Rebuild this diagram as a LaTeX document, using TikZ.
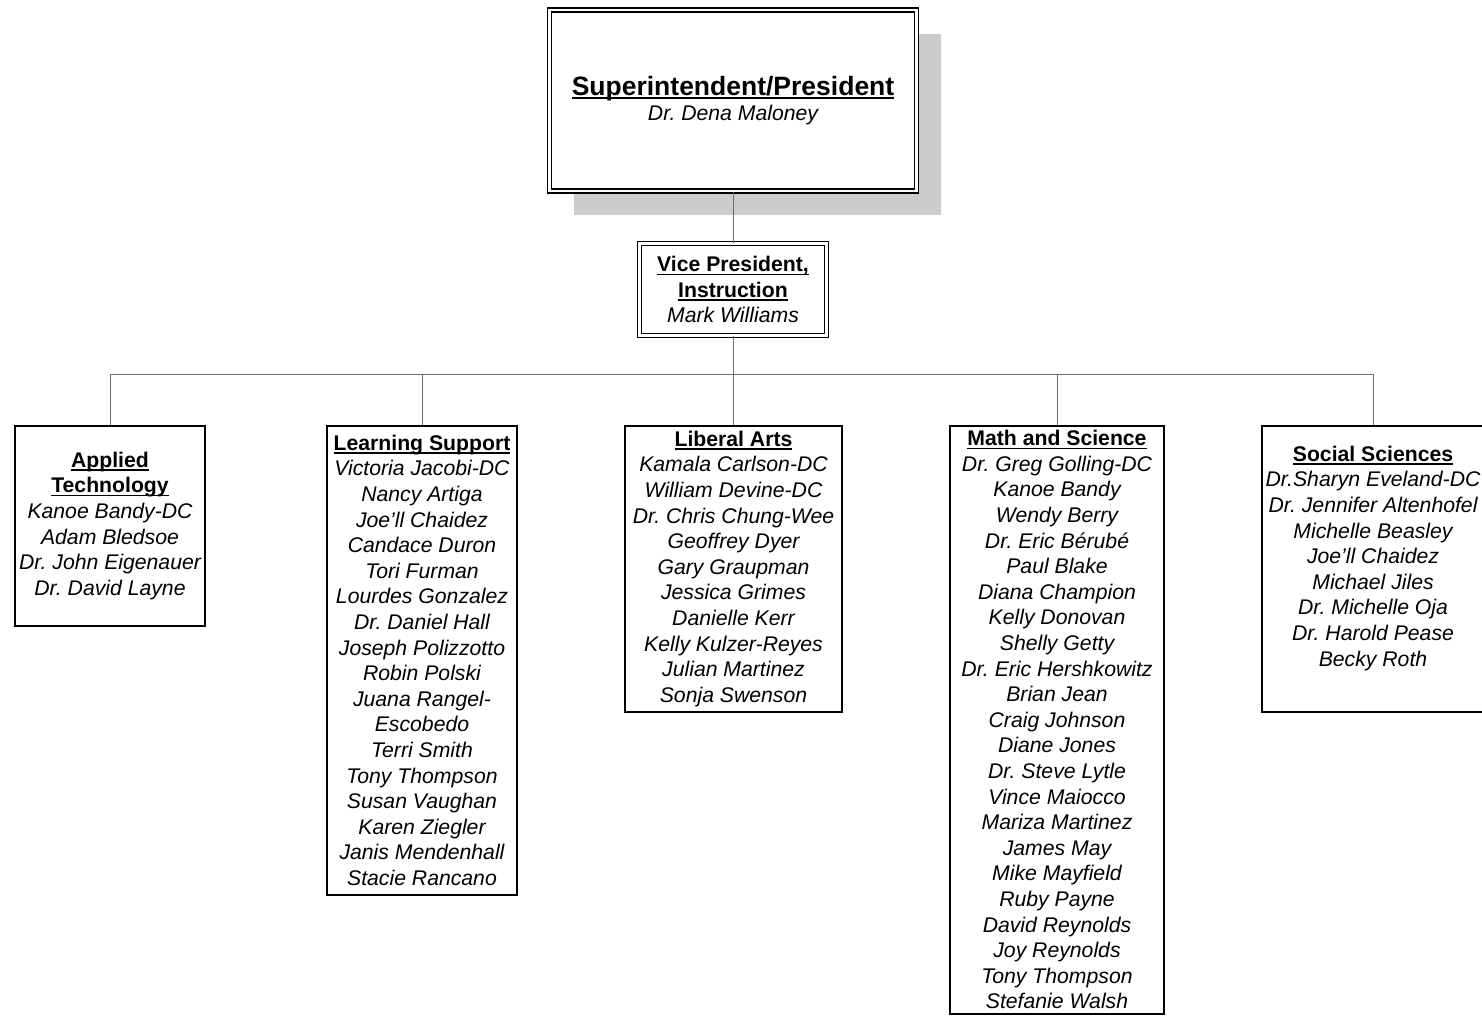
\documentclass[tikz,border=0pt]{standalone}
\usepackage{fontspec}
\setmainfont{Liberation Sans}
\usetikzlibrary{shadows}
\frenchspacing
\definecolor{shadowgray}{RGB}{204,204,204}
\definecolor{linkgray}{RGB}{110,110,110}
\newcommand{\head}[1]{{\bfseries\upshape\setbox0\hbox{#1}\rlap{\rule[-3.6pt]{\wd0}{1.5pt}}\box0}}
\tikzset{
  namefont/.style={font=\fontsize{21.2}{25.6}\selectfont\itshape},
  dept/.style={draw, line width=1.6pt, fill=white, align=center, anchor=north,
    inner xsep=1pt, inner ysep=2pt, namefont},
  office/.style={draw, line width=1.6pt, double, double distance=2.4pt, fill=white,
    align=center, inner sep=2pt, namefont},
  link/.style={draw=linkgray, line width=0.9pt}
}
\begin{document}
\begin{tikzpicture}[x=1pt,y=-1pt]
  \useasboundingbox (0,0) rectangle (1482,1015);

  \node[office, minimum width=367pt, minimum height=181pt,
    general shadow={fill=shadowgray, draw=none, shadow xshift=24pt, shadow yshift=-24pt}]
    (sup) at (733,100.5) {{\fontsize{26.5}{27}\selectfont\head{Superintendent/President}}\\ Dr. Dena Maloney};
  \node[office, minimum width=187pt, minimum height=92pt] (vp) at (733,289.5)
    {\head{Vice President,}\\ \head{Instruction}\\ Mark Williams};

  \node[dept, minimum width=190pt, minimum height=200pt] (app) at (110,425)
    {\head{Applied}\\ \head{Technology}\\ Kanoe Bandy-DC\\ Adam Bledsoe\\ Dr. John Eigenauer\\ Dr. David Layne};
  \node[dept, minimum width=190pt, minimum height=469pt] (lrn) at (422,425)
    {\head{Learning Support}\\ Victoria Jacobi-DC\\ Nancy Artiga\\ Joe'll Chaidez\\ Candace Duron\\ Tori Furman\\
     Lourdes Gonzalez\\ Dr. Daniel Hall\\ Joseph Polizzotto\\ Robin Polski\\ Juana Rangel-\\ Escobedo\\
     Terri Smith\\ Tony Thompson\\ Susan Vaughan\\ Karen Ziegler\\ Janis Mendenhall\\ Stacie Rancano};
  \node[dept, minimum width=217pt, minimum height=286pt] (lib) at (733.5,425)
    {\head{Liberal Arts}\\ Kamala Carlson-DC\\ William Devine-DC\\ Dr. Chris Chung-Wee\\ Geoffrey Dyer\\
     Gary Graupman\\ Jessica Grimes\\ Danielle Kerr\\ Kelly Kulzer-Reyes\\ Julian Martinez\\ Sonja Swenson};
  \node[dept, minimum width=214pt, minimum height=588pt] (mat) at (1057,425)
    {\head{Math and Science}\\ Dr. Greg Golling-DC\\ Kanoe Bandy\\ Wendy Berry\\ Dr. Eric Bérubé\\ Paul Blake\\
     Diana Champion\\ Kelly Donovan\\ Shelly Getty\\ Dr. Eric Hershkowitz\\ Brian Jean\\ Craig Johnson\\
     Diane Jones\\ Dr. Steve Lytle\\ Vince Maiocco\\ Mariza Martinez\\ James May\\ Mike Mayfield\\
     Ruby Payne\\ David Reynolds\\ Joy Reynolds\\ Tony Thompson\\ Stefanie Walsh};
  \node[dept, minimum width=222pt, minimum height=286pt] (soc) at (1373,425)
    {\head{Social Sciences}\\ Dr.Sharyn Eveland-DC\\ Dr. Jennifer Altenhofel\\ Michelle Beasley\\ Joe'll Chaidez\\
     Michael Jiles\\ Dr. Michelle Oja\\ Dr. Harold Pease\\ Becky Roth\\ \mbox{}};

  \coordinate (bus) at (733,374);
  \draw[link] (sup) -- (vp);
  \draw[link] (vp) -- (bus);
  \draw[link] (bus -| app.north) -- (bus -| soc.north);
  \foreach \d in {app,lrn,lib,mat,soc}
    \draw[link] (bus -| \d.north) -- (\d.north);
\end{tikzpicture}
\end{document}
